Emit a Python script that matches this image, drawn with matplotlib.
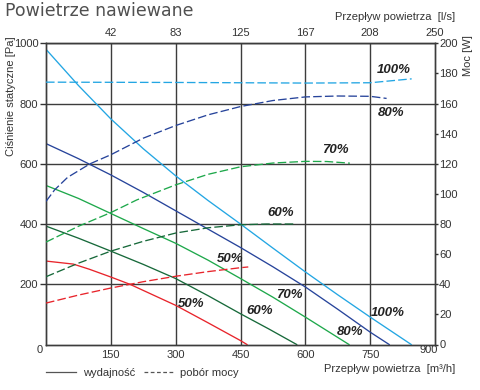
import matplotlib
matplotlib.use("Agg")
import matplotlib.pyplot as plt
from matplotlib.lines import Line2D

plt.rcParams['font.family'] = ['Liberation Sans', 'DejaVu Sans']

# --- data (flow in m3/h, pressure in Pa, power in W) ---
x100 = [0, 75, 150, 225, 300, 375, 450, 525, 600, 675, 750, 845]
p100 = [980, 860, 749, 650, 560, 478, 400, 320, 241, 165, 91, 0]
x80 = [0, 75, 150, 225, 300, 375, 450, 525, 600, 675, 750, 794]
p80 = [667, 617, 563, 505, 444, 383, 322, 258, 191, 117, 41, 0]
x70 = [0, 75, 150, 225, 300, 375, 450, 525, 600, 701]
p70 = [528, 485, 435, 385, 336, 280, 219, 157, 91, 0]
x60 = [0, 75, 150, 225, 300, 375, 450, 515, 580]
p60 = [393, 353, 310, 266, 219, 162, 102, 52, 0]
x50 = [0, 63, 100, 150, 194, 300, 375, 450, 465]
p50 = [277, 267, 250, 224, 200, 130, 72, 13, 0]

wx100 = [0, 300, 600, 750, 846]
w100 = [174.2, 174, 173.6, 173.8, 176.4]
wx80 = [0, 20, 50, 102, 150, 225, 300, 375, 450, 525, 600, 675, 750, 788]
w80 = [95, 102.7, 111, 120, 126, 137, 145.4, 152.5, 158, 162, 164.4, 165, 164.8, 163.4]
wx70 = [0, 75, 150, 210, 300, 375, 450, 525, 600, 650, 703]
w70 = [68, 78.5, 87.6, 96, 106, 113, 118, 120.5, 121.6, 121.5, 120.4]
wx60 = [0, 75, 150, 225, 300, 375, 450, 510, 575]
w60 = [45, 54, 62, 68.5, 74, 77.5, 79.5, 80, 80]
wx50 = [0, 75, 150, 225, 300, 375, 450, 468]
w50 = [27.5, 32.8, 37.5, 41.7, 45.3, 48.4, 51, 51.5]

top_ticks = [150, 300, 450, 600, 750, 900]
top_labels = ['42', '83', '125', '167', '208', '250']

# label positions (flow, pressure)
lab_top = [('100%', 805, 910), ('80%', 798, 770), ('70%', 669, 645),
           ('60%', 543, 437), ('50%', 427, 283)]
lab_bot = [('50%', 335, 133), ('60%', 494, 112), ('70%', 563, 165),
           ('80%', 703, 42), ('100%', 790, 105)]

c100 = '#23a6e3'
c80 = '#27449b'
c70 = '#1ea84b'
c60 = '#17693a'
c50 = '#e8242b'
dark = '#333333'

fig = plt.figure(figsize=(4.8, 3.9), dpi=100)
ax = fig.add_axes([46/480, 1-344.5/390, 389/480, 301.2/390])
ax2 = ax.twinx()

lw = 0.95
for xs, ps, c in [(x100, p100, c100), (x80, p80, c80), (x70, p70, c70),
                  (x60, p60, c60), (x50, p50, c50)]:
    ax.plot(xs, ps, color=c, lw=lw, zorder=3)
for xs, ws, c in [(wx100, w100, c100), (wx80, w80, c80), (wx70, w70, c70),
                  (wx60, w60, c60), (wx50, w50, c50)]:
    ax2.plot(xs, ws, color=c, lw=lw, dashes=(6.5, 2.4), zorder=3)

ax.set_xlim(0, 900)
ax.set_ylim(0, 1000)
ax2.set_ylim(0, 200)

ax.set_xticks([150, 300, 450, 600, 750])
ax.set_yticks([200, 400, 600, 800, 1000])
ax.grid(True, color='#3c3c3c', lw=1)
ax.tick_params(axis='x', length=0, pad=4, labelsize=8, colors=dark)
ax.tick_params(axis='y', length=4.5, width=1, pad=1, labelsize=8, colors=dark)
ax2.set_yticks(range(0, 201, 20))
ax2.tick_params(axis='y', length=2.5, width=1, pad=0.5, labelsize=8, colors=dark)
for a in (ax, ax2):
    for s in a.spines.values():
        s.set_color('#3c3c3c')
        s.set_linewidth(1)

# corner labels on x axis
ax.text(-14, -3, '0', ha='center', va='top', fontsize=8, color=dark,
        transform=ax.transData, clip_on=False)
ax.text(885, -3, '900', ha='center', va='top', fontsize=8, color=dark,
        transform=ax.transData, clip_on=False)

top = ax.secondary_xaxis('top')
top.set_xticks(top_ticks)
top.set_xticklabels(top_labels)
top.tick_params(length=0, pad=4, labelsize=8, colors=dark)
top.spines['top'].set_visible(False)

for t, xv, pv in lab_top + lab_bot:
    ax.text(xv, pv, t, ha='center', va='center', fontsize=9.5,
            fontweight='bold', fontstyle='italic', color='#222222', zorder=5)

fig.text(5/480, 1-16/390, 'Powietrze nawiewane', fontsize=12.5, color='#505050',
         family='DejaVu Sans', va='baseline', ha='left')
fig.text(455/480, 1-20/390, 'Przepływ powietrza  [l/s]', fontsize=8,
         color=dark, ha='right', va='baseline')
fig.text(455/480, 1-372/390, 'Przepływ powietrza  [m³/h]', fontsize=8,
         color=dark, ha='right', va='baseline')
fig.text(11/480, 1-36/390, 'Ciśnienie statyczne [Pa]', rotation=90,
         fontsize=8, color=dark, ha='center', va='top')
fig.text(468/480, 1-35/390, 'Moc [W]', rotation=90, fontsize=8,
         color=dark, ha='center', va='top')

handles = [Line2D([], [], color='#555555', lw=0.9),
           Line2D([], [], color='#555555', lw=0.9, dashes=(3, 2))]
fig.legend(handles, ['wydajność', 'pobór mocy'], loc='center left',
           bbox_to_anchor=(36/480, 1-373/390), ncol=2, frameon=False,
           fontsize=8, handlelength=2.7, handletextpad=0.6,
           columnspacing=0.8, labelcolor=dark)

fig.savefig('out.png', dpi=100)
